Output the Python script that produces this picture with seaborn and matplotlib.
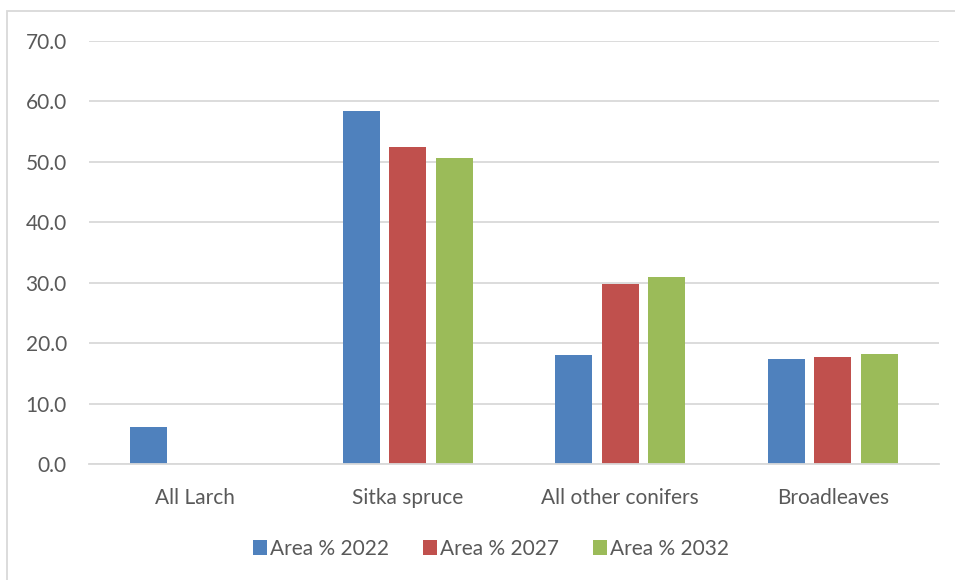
import matplotlib
matplotlib.use("Agg")
import matplotlib.pyplot as plt
import seaborn as sns
import pandas as pd
from matplotlib.patches import Rectangle

categories = ["All Larch", "Sitka spruce", "All other conifers", "Broadleaves"]
series_names = ["Area % 2022", "Area % 2027", "Area % 2032"]
area_2022 = [6.1, 58.4, 18.0, 17.3]
area_2027 = [0.0, 52.4, 29.8, 17.7]
area_2032 = [0.0, 50.7, 30.9, 18.2]
colors = ["#4F81BD", "#C0504D", "#9BBB59"]

rows = []
for name, vals in zip(series_names, [area_2022, area_2027, area_2032]):
    for c, v in zip(categories, vals):
        rows.append({"category": c, "series": name, "value": v})
df = pd.DataFrame(rows)

sns.set_theme(style="white")
plt.rcParams["font.family"] = ["Lato", "DejaVu Sans"]
text_color = "#595959"
grid_color = "#D9D9D9"

fig = plt.figure(figsize=(9.55, 5.8), dpi=100)
ax = fig.add_axes([89 / 955, 116 / 580, 850 / 955, 423 / 580])

sns.barplot(data=df, x="category", y="value", hue="series", order=categories,
            hue_order=series_names, palette=colors, width=0.656, gap=0.2,
            saturation=1, ax=ax, legend=True, edgecolor="none", linewidth=0)

ax.set_ylim(0, 70)
ax.set_xlim(-0.5, len(categories) - 0.5)
ax.set_yticks(range(0, 71, 10))
ax.set_yticklabels([f"{v:.1f}" for v in range(0, 71, 10)])
ax.yaxis.grid(True, color=grid_color, linewidth=1.3)
ax.set_axisbelow(True)
for s in ["top", "right", "left"]:
    ax.spines[s].set_visible(False)
ax.spines["bottom"].set_color(grid_color)
ax.spines["bottom"].set_linewidth(1.3)
ax.set_xlabel("")
ax.set_ylabel("")
ax.tick_params(axis="both", length=0, labelsize=15, labelcolor=text_color)
ax.tick_params(axis="y", pad=16)
ax.tick_params(axis="x", pad=17)

handles, labels = ax.get_legend_handles_labels()
ax.legend(handles, labels, loc="center", bbox_to_anchor=(0.473, -0.2), ncol=3,
          frameon=False, fontsize=15, labelcolor=text_color, handlelength=0.7,
          handleheight=0.7, handletextpad=0.15, columnspacing=1.6)

fig.patches.append(Rectangle((7 / 955, -0.05), 1.2, (569 / 580) + 0.05,
                             transform=fig.transFigure, fill=False,
                             edgecolor=grid_color, linewidth=1.3))

fig.savefig("out.png", dpi=100)
